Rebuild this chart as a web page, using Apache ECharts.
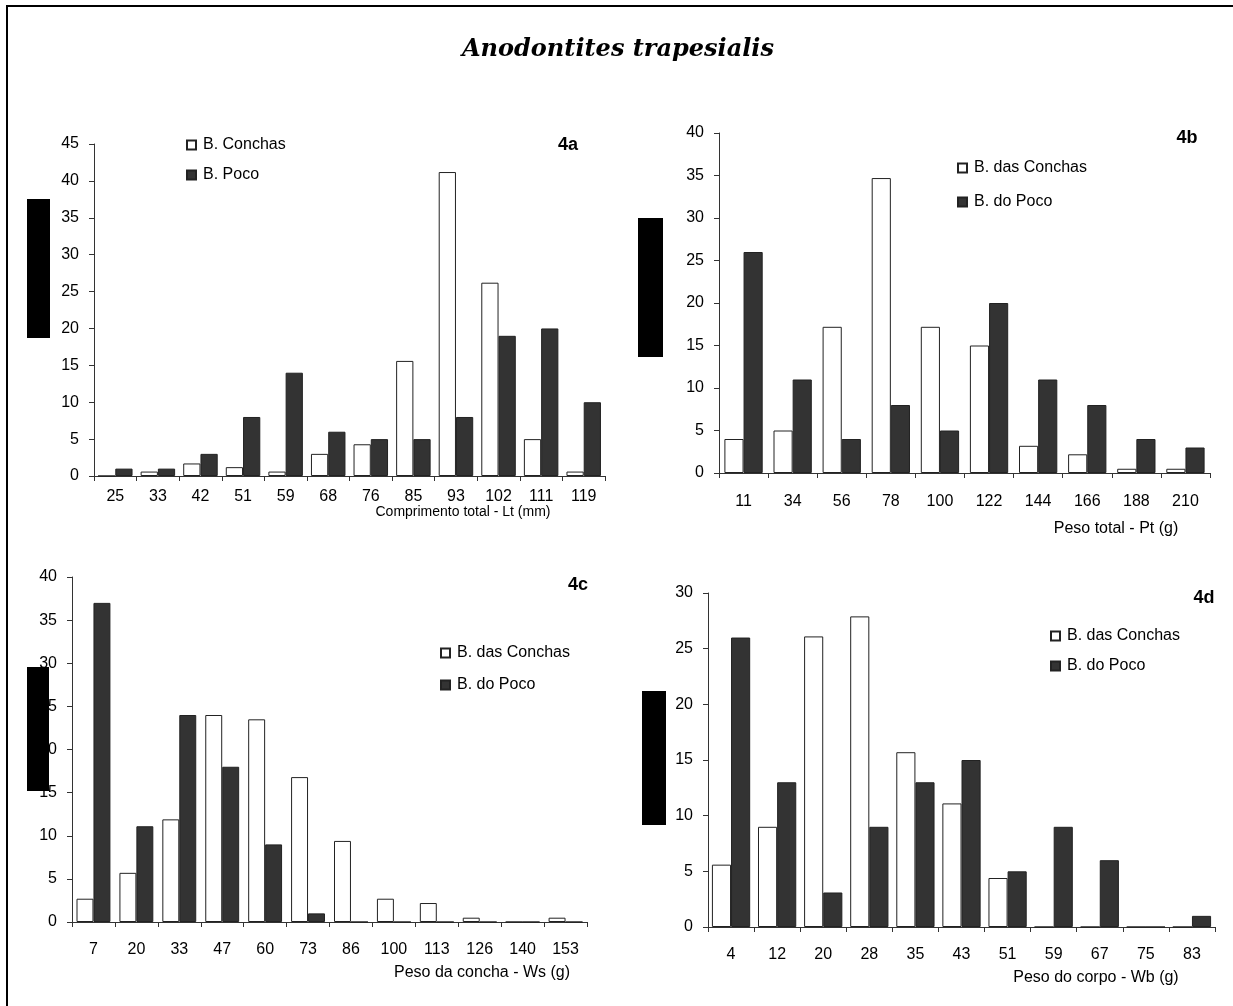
<!DOCTYPE html>
<html>
<head>
<meta charset="utf-8">
<script src="https://cdn.jsdelivr.net/npm/echarts@6/dist/echarts.min.js"></script>
<style>
html,body{margin:0;padding:0;background:#fff;}
#chart{width:1233px;height:1006px;}
</style>
</head>
<body>
<div id="chart"></div>
<script>
// ---- data ----
const catA = ['25','33','42','51','59','68','76','85','93','102','111','119'];
const conchasA = [0, 0.6, 1.7, 1.2, 0.6, 3.0, 4.3, 15.6, 41.2, 26.2, 5, 0.6];
const pocoA = [1, 1, 3, 8, 14, 6, 5, 5, 8, 19, 20, 10];

const catB = ['11','34','56','78','100','122','144','166','188','210'];
const conchasB = [4, 5, 17.2, 34.7, 17.2, 15, 3.2, 2.2, 0.5, 0.5];
const pocoB = [26, 11, 4, 8, 5, 20, 11, 8, 4, 3];

const catC = ['7','20','33','47','60','73','86','100','113','126','140','153'];
const conchasC = [2.7, 5.7, 11.9, 24, 23.5, 16.8, 9.4, 2.7, 2.2, 0.5, 0, 0.5];
const pocoC = [37, 11.1, 24, 18, 9, 1, 0, 0, 0, 0, 0, 0];

const catD = ['4','12','20','28','35','43','51','59','67','75','83'];
const conchasD = [5.6, 9, 26.1, 27.9, 15.7, 11.1, 4.4, 0, 0, 0, 0];
const pocoD = [26, 13, 3.1, 9, 13, 15, 5, 9, 6, 0, 1];

const yMaxA = 45, yMaxB = 40, yMaxC = 40, yMaxD = 30;

// ---- styling / layout ----
const FONT = 'Liberation Sans, Arial, sans-serif';
const panels = [
  {cats: catA, w: conchasA, d: pocoA, wName: 'B. Conchas', dName: 'B. Poco', max: yMaxA,
   grid: {left: 94, top: 144, width: 511, height: 332}, xMargin: 13, gap: '19%'},
  {cats: catB, w: conchasB, d: pocoB, wName: 'B. das Conchas', dName: 'B. do Poco', max: yMaxB,
   grid: {left: 719, top: 133, width: 491, height: 340}, xMargin: 21, gap: '22%'},
  {cats: catC, w: conchasC, d: pocoC, wName: 'B. das Conchas', dName: 'B. do Poco', max: yMaxC,
   grid: {left: 72, top: 577, width: 515, height: 345}, xMargin: 20, gap: '21%'},
  {cats: catD, w: conchasD, d: pocoD, wName: 'B. das Conchas', dName: 'B. do Poco', max: yMaxD,
   grid: {left: 708, top: 593, width: 507, height: 334}, xMargin: 20, gap: '17%'}
];

const axisColor = '#333';
const grids = [], xAxes = [], yAxes = [], series = [];
panels.forEach((p, i) => {
  grids.push(Object.assign({containLabel: false}, p.grid));
  xAxes.push({
    type: 'category', gridIndex: i, data: p.cats, boundaryGap: true,
    axisLine: {show: true, lineStyle: {color: axisColor, width: 1}},
    axisTick: {show: true, alignWithLabel: false, length: 5, lineStyle: {color: axisColor}},
    axisLabel: {color: '#000', fontSize: 16, fontFamily: FONT, margin: p.xMargin, interval: 0},
    splitLine: {show: false}
  });
  yAxes.push({
    type: 'value', gridIndex: i, min: 0, max: p.max, interval: 5,
    axisLine: {show: true, lineStyle: {color: axisColor, width: 1}},
    axisTick: {show: true, length: 5, lineStyle: {color: axisColor}},
    axisLabel: {color: '#000', fontSize: 16, fontFamily: FONT, margin: 15},
    splitLine: {show: false}
  });
  series.push({
    type: 'bar', name: p.wName, xAxisIndex: i, yAxisIndex: i, data: p.w,
    barGap: '0%', barCategoryGap: p.gap,
    itemStyle: {color: '#ffffff', borderColor: '#222', borderWidth: 1},
    emphasis: {disabled: true}
  });
  series.push({
    type: 'bar', name: p.dName, xAxisIndex: i, yAxisIndex: i, data: p.d,
    barGap: '0%', barCategoryGap: p.gap,
    itemStyle: {color: '#333333', borderColor: '#222', borderWidth: 1},
    emphasis: {disabled: true}
  });
});

function leg(name, x, yc) {
  return {
    data: [name], left: x, top: yc - 9, orient: 'vertical',
    icon: 'rect', itemWidth: 9, itemHeight: 9, itemGap: 0, padding: 0,
    selectedMode: false,
    textStyle: {color: '#000', fontSize: 16, fontFamily: FONT, padding: [0, 0, 0, 2]}
  };
}
const legends = [
  leg('B. Conchas', 186, 146), leg('B. Poco', 186, 176),
  leg('B. das Conchas', 957, 169), leg('B. do Poco', 957, 203),
  leg('B. das Conchas', 440, 654), leg('B. do Poco', 440, 686),
  leg('B. das Conchas', 1050, 637), leg('B. do Poco', 1050, 667)
];

function txt(text, x, y, size, weight, align) {
  return {type: 'text', x: x, y: y, z: 50,
    style: {text: text, fontSize: size, fontWeight: weight || 'normal', fontFamily: FONT,
      fill: '#000', align: align || 'center', verticalAlign: 'middle'}};
}
function box(x, y, w, h) {
  return {type: 'rect', shape: {x: x, y: y, width: w, height: h}, z: 100,
    style: {fill: '#000'}};
}

const graphics = [
  {type: 'rect', shape: {x: 7, y: 6, width: 1240, height: 1020}, z: 0, silent: true,
   style: {fill: 'none', stroke: '#000', lineWidth: 2}},
  {type: 'text', x: 618, y: 50, z: 50,
   style: {text: 'Anodontites trapesialis', fontSize: 24, fontWeight: 'bold', fontStyle: 'italic',
     fontFamily: 'DejaVu Serif, serif', fill: '#000', align: 'center', verticalAlign: 'middle'}},
  txt('4a', 568, 145, 18, 'bold'),
  txt('4b', 1187, 138, 18, 'bold'),
  txt('4c', 578, 585, 18, 'bold'),
  txt('4d', 1204, 598, 18, 'bold'),
  txt('Comprimento total - Lt (mm)', 463, 512, 14),
  txt('Peso total - Pt (g)', 1116, 529, 16),
  txt('Peso da concha - Ws (g)', 482, 973, 16),
  txt('Peso do corpo - Wb (g)', 1096, 978, 16),
  box(27, 199, 23, 139),
  box(638, 218, 25, 139),
  box(27, 667, 22, 124),
  box(642, 691, 24, 134)
];

const chart = echarts.init(document.getElementById('chart'), null, {renderer: 'canvas'});
chart.setOption({
  backgroundColor: '#fff',
  animation: false,
  grid: grids, xAxis: xAxes, yAxis: yAxes, series: series,
  legend: legends,
  graphic: graphics
});
</script>
</body>
</html>
